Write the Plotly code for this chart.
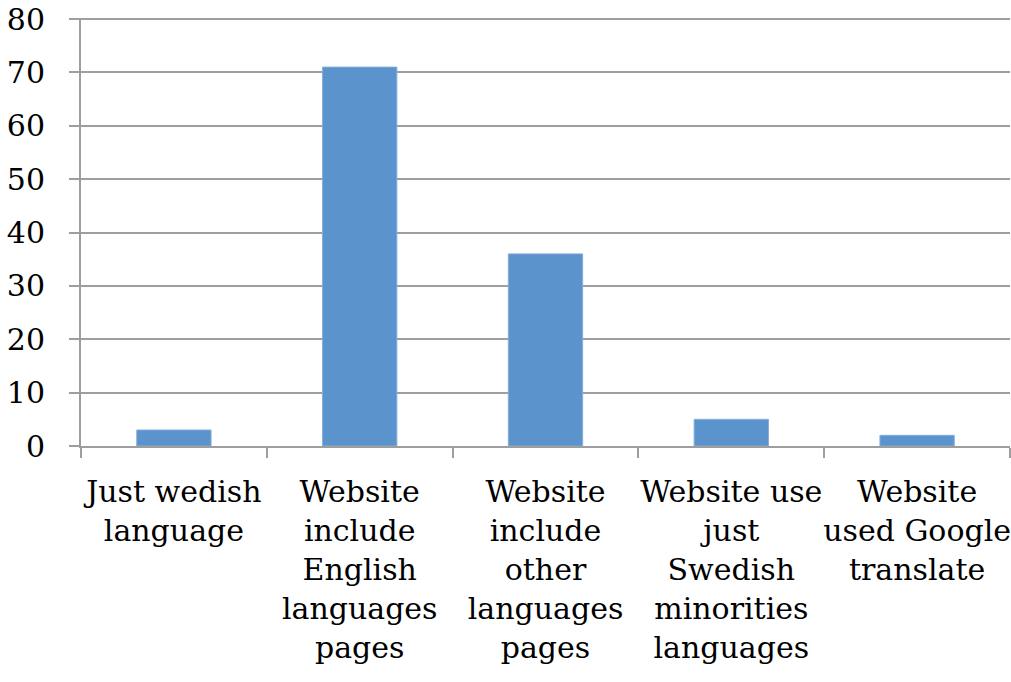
import plotly.graph_objects as go

# Website language survey: number of sites per category
categories = [
    "Just wedish<br>language",
    "Website<br>include<br>English<br>languages<br>pages",
    "Website<br>include<br>other<br>languages<br>pages",
    "Website use<br>just<br>Swedish<br>minorities<br>languages",
    "Website<br>used Google<br>translate",
]
values = [3, 71, 36, 5, 2]
y_ticks = [0, 10, 20, 30, 40, 50, 60, 70, 80]

BAR = "#5B93CC"
GRID = "#9E9E9E"
FONT = "DejaVu Serif"

fig = go.Figure(
    go.Bar(
        x=categories,
        y=values,
        marker=dict(color=BAR, line=dict(color="#86AEDB", width=1)),
        hoverinfo="x+y",
    )
)

fig.update_layout(
    width=1011,
    height=682,
    margin=dict(l=81, r=1, t=18, b=236),
    paper_bgcolor="white",
    plot_bgcolor="white",
    bargap=0.6,
    showlegend=False,
    font=dict(family=FONT, size=30, color="black"),
)

fig.update_xaxes(
    type="category",
    range=[-0.5, 4.5],
    automargin=False,
    tickson="boundaries",
    ticks="outside",
    ticklen=10,
    tickwidth=2,
    tickcolor=GRID,
    showline=True,
    linecolor=GRID,
    linewidth=2,
    showgrid=False,
    tickangle=0,
    ticklabelstandoff=18,
    tickfont=dict(family=FONT, size=30, color="black"),
)

# slight headroom above 80 so the top gridline is drawn
fig.update_yaxes(
    range=[0, 80.2],
    automargin=False,
    tickvals=y_ticks,
    ticks="outside",
    ticklen=10,
    tickwidth=2,
    tickcolor=GRID,
    showline=True,
    linecolor=GRID,
    linewidth=2,
    showgrid=True,
    gridcolor=GRID,
    gridwidth=2,
    zeroline=False,
    ticklabelstandoff=18,
    tickfont=dict(family=FONT, size=30, color="black"),
)

fig.write_html("out.html")
